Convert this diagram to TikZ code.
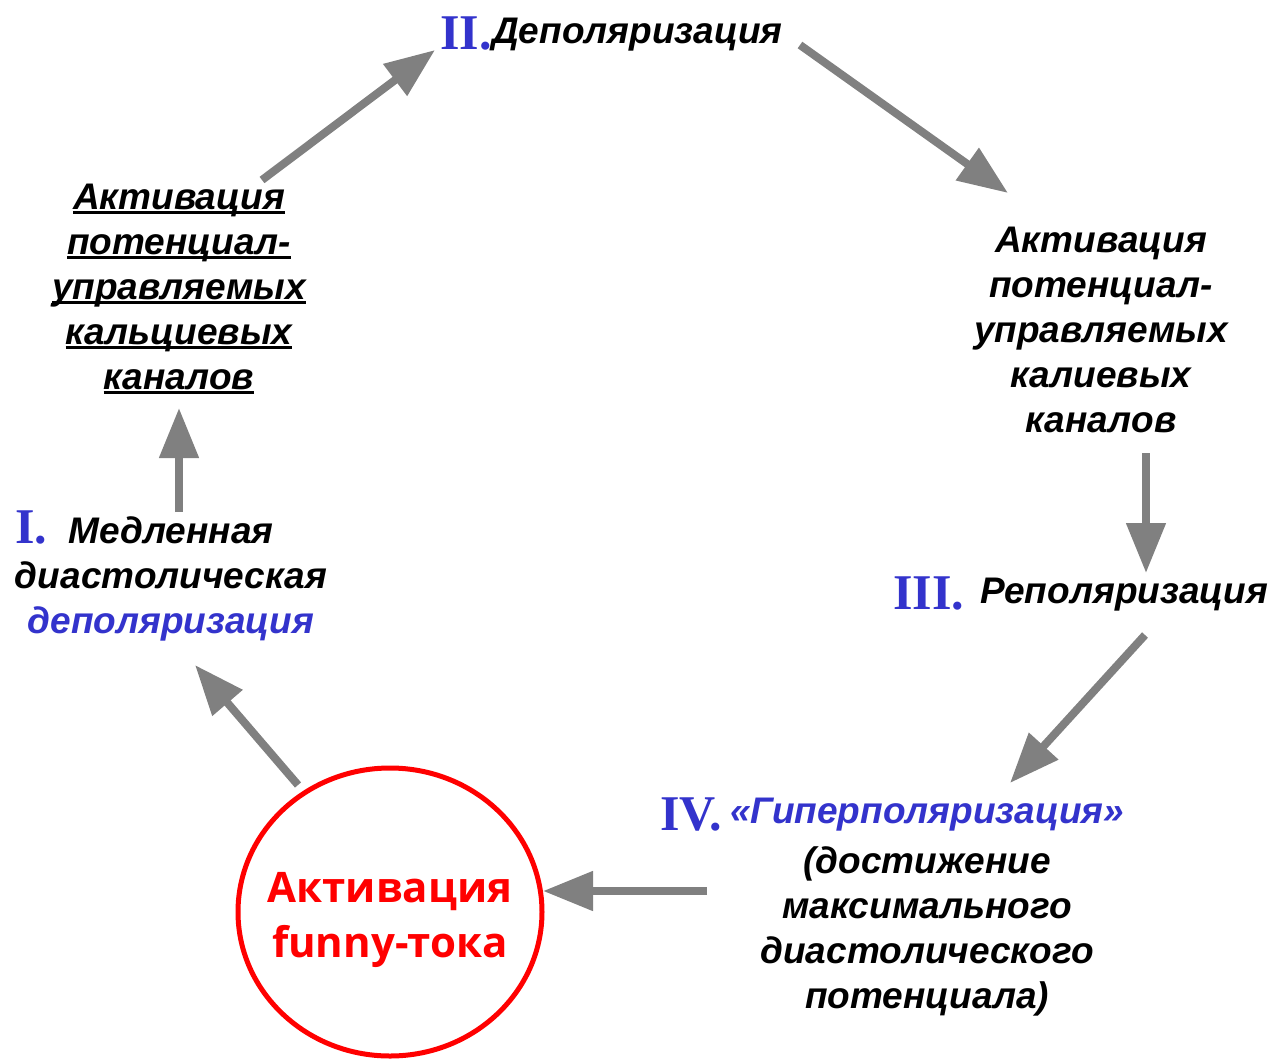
\documentclass[tikz,border=0pt]{standalone}
\usepackage{fontspec}
\setmainfont{Liberation Sans}
\newfontfamily\romfont{Liberation Serif}
\newfontfamily\funfont{Open Sans}
\usetikzlibrary{arrows.meta}
\definecolor{myblue}{HTML}{3333CC}
\definecolor{arrgray}{HTML}{808080}
\definecolor{myred}{HTML}{FF0000}
\newcommand\ulbox[1]{\setbox0\hbox{#1}\rlap{\rule[-5pt]{\wd0}{3.5pt}}\box0}
\begin{document}
\begin{tikzpicture}[x=1pt,y=-1pt,
  txt/.style={font=\fontsize{37}{45}\selectfont\bfseries\itshape, align=center, inner sep=0pt},
  rom/.style={font=\fontsize{50}{50}\selectfont\romfont\bfseries, text=myblue, inner sep=0pt, anchor=base west},
  arr/.style={draw=arrgray, line width=8pt, -{Triangle[length=50pt,width=38pt]}},
  funtxt/.style={font=\fontsize{42}{55}\selectfont\funfont\bfseries, text=myred, align=center, inner sep=0pt}
]
\useasboundingbox (0,0) rectangle (1272,1058);

% numerals
\node[rom] (n1) at (15,543) {I.};
\node[rom] (n2) at (440,49) {II.};
\node[rom] (n3) at (893,609) {III.};
\node[rom] (n4) at (660,830) {IV.};

% texts (anchor=base is the baseline of the last line)
\node[txt, anchor=base] (slow) at (171,633) {Медленная\\диастолическая\\\textcolor{myblue}{деполяризация}};
\node[txt, anchor=base] (ca) at (179,389) {\ulbox{Активация}\\\ulbox{потенциал-}\\\ulbox{управляемых}\\\ulbox{кальциевых}\\\ulbox{каналов}};
\node[txt, anchor=base west] (depol) at (492,43) {Деполяризация};
\node[txt, anchor=base] (k) at (1101,432) {Активация\\потенциал-\\управляемых\\калиевых\\каналов};
\node[txt, anchor=base west] (repol) at (980,603) {Реполяризация};
\node[txt, anchor=base west, text=myblue] (hyper) at (730,823) {«Гиперполяризация»};
\node[txt, anchor=base] (max) at (927,1008) {(достижение\\максимального\\диастолического\\потенциала)};

% circle
\draw[myred, line width=5pt] (390,912) ellipse [x radius=152, y radius=144];
\node[funtxt, anchor=base] (funny) at (390,957) {Активация\\funny-тока};

% arrow endpoints
\coordinate (a1s) at (298,785); \coordinate (a1e) at (195,665);
\coordinate (a2s) at (179,512); \coordinate (a2e) at (179,408);
\coordinate (a3s) at (262,180); \coordinate (a3e) at (435,50);
\coordinate (a4s) at (800,45);  \coordinate (a4e) at (1008,193);
\coordinate (a5s) at (1146,453); \coordinate (a5e) at (1146,573);
\coordinate (a6s) at (1145,635); \coordinate (a6e) at (1010,783);
\coordinate (a7s) at (707,891); \coordinate (a7e) at (543,891);

\draw[arr] (a1s) -- (a1e);
\draw[arr] (a2s) -- (a2e);
\draw[arr] (a3s) -- (a3e);
\draw[arr] (a4s) -- (a4e);
\draw[arr] (a5s) -- (a5e);
\draw[arr] (a6s) -- (a6e);
\draw[arr] (a7s) -- (a7e);
\end{tikzpicture}
\end{document}
